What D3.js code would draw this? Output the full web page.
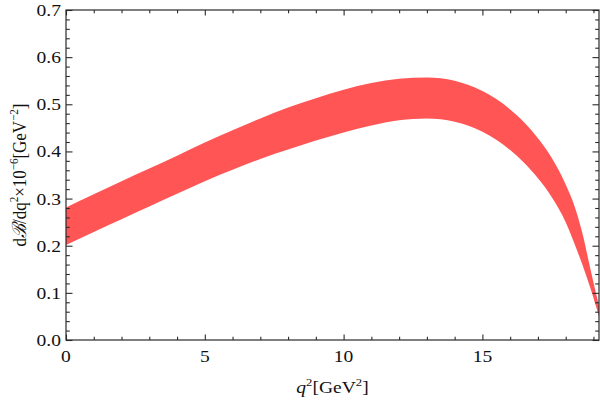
<!DOCTYPE html>
<html><head><meta charset="utf-8">
<script src="https://cdn.jsdelivr.net/npm/d3@7"></script>
<style>
body{margin:0;background:#fff;}
svg{display:block;}
text{font-family:"Liberation Serif","Times New Roman",serif;fill:#111;}
</style></head>
<body><svg id="c" width="600" height="402"></svg>
<script>
const q2 =    [0,1,2,3,4,5,6,7,8,9,10,11,12,13,14,15,15.5,16,16.5,17,17.5,18,18.3,18.6,18.9,19.2];
const upper = [0.281,0.309,0.337,0.364,0.391,0.419,0.445,0.470,0.493,0.513,0.531,0.545,0.554,0.557,0.550,0.528,0.511,0.489,0.462,0.428,0.386,0.330,0.287,0.227,0.148,0.072];
const lower = [0.2015,0.229,0.256,0.283,0.310,0.337,0.361,0.384,0.404,0.423,0.440,0.455,0.466,0.470,0.463,0.442,0.425,0.403,0.376,0.343,0.303,0.250,0.207,0.160,0.108,0.050];
const xMajor = [0,5,10,15];
const xMinor = [1,2,3,4,6,7,8,9,11,12,13,14,16,17,18,19];
const yMajor = [0,0.1,0.2,0.3,0.4,0.5,0.6,0.7];
const yMinor = d3.range(0,36).map(i=>+(i*0.02).toFixed(2)).filter(v=>Math.round(v*100)%10!==0);

const L=66,R=599,T=10,B=340;
const x=d3.scaleLinear().domain([0,19.2]).range([L,R]);
const y=d3.scaleLinear().domain([0,0.7]).range([B,T]);
const svg=d3.select("#c");
const SX=1.15, FS=17;

const band=q2.map((q,i)=>({q,lo:lower[i],hi:upper[i]}));
svg.append("path").datum(band)
  .attr("d",d3.area().x(d=>x(d.q)).y0(d=>y(d.lo)).y1(d=>y(d.hi)).curve(d3.curveMonotoneX))
  .attr("fill","#ff5555");

const col="#2a2a2a";
function axis(gen,tr){
  const g=svg.append("g").attr("transform",tr).call(gen);
  g.select(".domain").remove();
  g.selectAll(".tick line").attr("stroke",col).attr("stroke-width",1.1);
  g.selectAll("text").remove();
  return g;
}
axis(d3.axisBottom(x).tickValues(xMajor).tickSize(-5.5),`translate(0,${B})`);
axis(d3.axisBottom(x).tickValues(xMinor).tickSize(-3.3),`translate(0,${B})`);
axis(d3.axisTop(x).tickValues(xMajor).tickSize(-5.5),`translate(0,${T})`);
axis(d3.axisTop(x).tickValues(xMinor).tickSize(-3.3),`translate(0,${T})`);
axis(d3.axisLeft(y).tickValues(yMajor).tickSize(-6.5),`translate(${L},0)`);
axis(d3.axisLeft(y).tickValues(yMinor).tickSize(-3.8),`translate(${L},0)`);
axis(d3.axisRight(y).tickValues(yMajor).tickSize(-6.5),`translate(${R},0)`);
axis(d3.axisRight(y).tickValues(yMinor).tickSize(-3.8),`translate(${R},0)`);

svg.append("rect").attr("x",L).attr("y",T).attr("width",R-L).attr("height",B-T)
  .attr("fill","none").attr("stroke",col).attr("stroke-width",1.2);

xMajor.forEach(v=>{
  svg.append("text").attr("transform",`translate(${x(v)},${B+21.5}) scale(${SX},1)`)
    .attr("text-anchor","middle").attr("font-size",FS).text(v);
});
yMajor.forEach(v=>{
  svg.append("text").attr("transform",`translate(${L-5},${y(v)+6}) scale(${SX},1)`)
    .attr("text-anchor","end").attr("font-size",FS).text(v.toFixed(1));
});

// x label
const xl=svg.append("text").attr("transform",`translate(${(L+R)/2},393) scale(${SX},1)`)
  .attr("text-anchor","middle").attr("font-size",FS);
xl.append("tspan").attr("font-style","italic").text("q");
xl.append("tspan").attr("font-size",11).attr("dy",-7).text("2");
xl.append("tspan").attr("dy",7).text("[GeV");
xl.append("tspan").attr("font-size",11).attr("dy",-7).text("2");
xl.append("tspan").attr("dy",7).text("]");

// y label
const yl=svg.append("text").attr("transform",`translate(26,${(T+B)/2}) scale(${SX},1) rotate(-90)`)
  .attr("text-anchor","middle").attr("font-size",FS);
yl.append("tspan").text("d");
yl.append("tspan").attr("font-style","italic").text("ℬ");
yl.append("tspan").text("/dq");
yl.append("tspan").attr("font-size",11).attr("dy",-7).text("2");
yl.append("tspan").attr("dy",7).text("×10");
yl.append("tspan").attr("font-size",11).attr("dy",-7).text("−6");
yl.append("tspan").attr("dy",7).text("[GeV");
yl.append("tspan").attr("font-size",11).attr("dy",-7).text("−2");
yl.append("tspan").attr("dy",7).text("]");
</script></body></html>
